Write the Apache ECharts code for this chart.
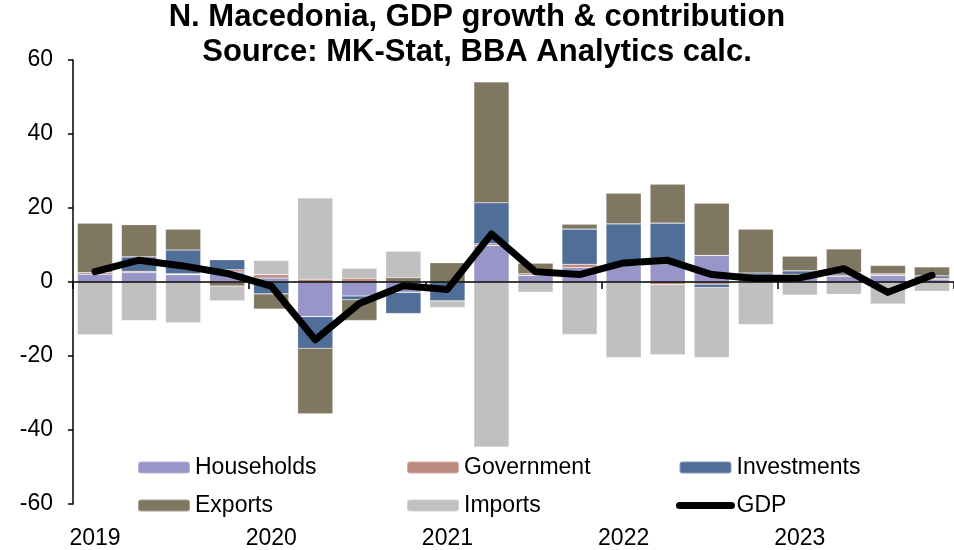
<!DOCTYPE html>
<html>
<head>
<meta charset="utf-8">
<script src="https://cdn.jsdelivr.net/npm/echarts@6/dist/echarts.min.js"></script>
<style>
html,body{margin:0;padding:0;background:#fff;}
#chart{width:954px;height:550px;}
</style>
</head>
<body>
<div id="chart"></div>
<script>
const categories = ['2019Q1','2019Q2','2019Q3','2019Q4','2020Q1','2020Q2','2020Q3','2020Q4','2021Q1','2021Q2','2021Q3','2021Q4','2022Q1','2022Q2','2022Q3','2022Q4','2023Q1','2023Q2','2023Q3','2023Q4'];
const yearLabels = ['2019','','','','2020','','','','2021','','','','2022','','','','2023','','',''];
const households  = [2.1, 2.55, 2.0, 2.7, 1.1, -9.35, -3.8, -2.8, 0.0, 9.9, 1.8, 3.9, 4.5, 5.0, 7.2, 1.5, 1.6, 1.5, 1.8, 0.6];
const government  = [0.45, 0.35, 0.2, 0.6, 0.9, 0.75, 1.0, 0.0, 0.0, 0.45, 0.45, 0.9, 0.3, -0.7, -0.6, 0.3, 0.5, 0.4, 0.4, 0.4];
const investments = [0.0, 3.9, 6.45, 2.7, -3.2, -8.55, -1.0, -5.7, -5.1, 11.05, 0.0, 9.5, 10.9, 10.9, -0.9, 0.65, 0.9, 0.6, 0.0, 0.65];
const exportsC    = [13.35, 8.7, 5.65, -1.1, -4.1, -17.7, -5.6, 1.2, 5.2, 32.7, 2.85, 1.35, 8.3, 10.5, 14.1, 11.85, 3.95, 6.4, 2.3, 2.45];
const importsC    = [-14.3, -10.4, -11.0, -3.95, 3.85, 21.95, 2.7, 7.1, -1.8, -44.6, -2.75, -14.2, -20.4, -19.0, -18.9, -11.5, -3.55, -3.35, -5.95, -2.5];
const gdp         = [2.8, 5.9, 4.35, 2.3, -1.1, -15.6, -5.8, -1.0, -2.0, 13.0, 2.75, 2.0, 5.15, 5.85, 2.0, 0.95, 1.1, 3.6, -2.8, 1.8];
const yTicks = {min: -60, max: 60, interval: 20};

const FONT = 'Liberation Sans, Arial, sans-serif';
const colors = {
  Households: '#9896C8',
  Government: '#BE8A80',
  Investments: '#506E98',
  Exports: '#807762',
  Imports: '#C0C0C0'
};

function barSeries(name, data) {
  return {
    name: name,
    type: 'bar',
    stack: 'total',
    xAxisIndex: 0,
    data: data,
    barCategoryGap: '20%',
    itemStyle: {color: colors[name], borderColor: 'rgba(255,255,255,0.3)', borderWidth: 0.6},
    emphasis: {disabled: true},
    z: 2
  };
}

const chart = echarts.init(document.getElementById('chart'), null, {renderer: 'canvas'});
const legendText = {color: '#000', fontSize: 23, fontFamily: FONT, lineHeight: 23};
const legendBase = {
  orient: 'vertical',
  itemWidth: 52,
  itemHeight: 12,
  itemGap: 15,
  textStyle: legendText,
  selectedMode: false,
  padding: 0
};
chart.setOption({
  animation: false,
  backgroundColor: '#fff',
  title: {
    text: 'N. Macedonia, GDP growth & contribution\nSource: MK-Stat, BBA Analytics calc.',
    left: 'center',
    top: 0,
    padding: [0, 0, 0, 20],
    textStyle: {fontFamily: FONT, fontWeight: 'bold', fontSize: 31, lineHeight: 35, color: '#000'}
  },
  legend: [
    Object.assign({}, legendBase, {left: 137, top: 456, data: ['Households', 'Exports']}),
    Object.assign({}, legendBase, {left: 406, top: 456, data: ['Government', 'Imports']}),
    Object.assign({}, legendBase, {left: 676, top: 456,
      data: ['Investments', {name: 'GDP', itemStyle: {opacity: 0}}],
      lineStyle: {width: 'inherit', cap: 'round'}})
  ],
  grid: {left: 73, right: 0, top: 60, bottom: 44, containLabel: false},
  xAxis: [
    {
      type: 'category',
      data: categories,
      position: 'bottom',
      boundaryGap: true,
      axisLine: {onZero: true, lineStyle: {color: '#000', width: 1.5}},
      axisTick: {show: true, interval: 3, length: 7, lineStyle: {color: '#000', width: 1.5}},
      axisLabel: {show: false},
      splitLine: {show: false},
      z: 5
    },
    {
      type: 'category',
      data: yearLabels,
      position: 'bottom',
      boundaryGap: true,
      axisLine: {show: false, onZero: false},
      axisTick: {show: false},
      axisLabel: {show: true, interval: 0, margin: 23, color: '#000', fontSize: 23, fontFamily: FONT},
      splitLine: {show: false}
    }
  ],
  yAxis: {
    type: 'value',
    min: yTicks.min,
    max: yTicks.max,
    interval: yTicks.interval,
    axisLine: {show: true, lineStyle: {color: '#000', width: 1.5}},
    axisTick: {show: true, length: 5, lineStyle: {color: '#000', width: 1.5}},
    axisLabel: {color: '#000', fontSize: 23, fontFamily: FONT, margin: 20},
    splitLine: {show: false}
  },
  series: [
    barSeries('Households', households),
    barSeries('Government', government),
    barSeries('Investments', investments),
    barSeries('Exports', exportsC),
    barSeries('Imports', importsC),
    {
      name: 'GDP',
      type: 'line',
      xAxisIndex: 0,
      data: gdp,
      symbol: 'none',
      color: '#000',
      lineStyle: {color: '#000', width: 7, cap: 'round', join: 'round'},
      emphasis: {disabled: true},
      z: 10
    }
  ]
});
</script>
</body>
</html>
